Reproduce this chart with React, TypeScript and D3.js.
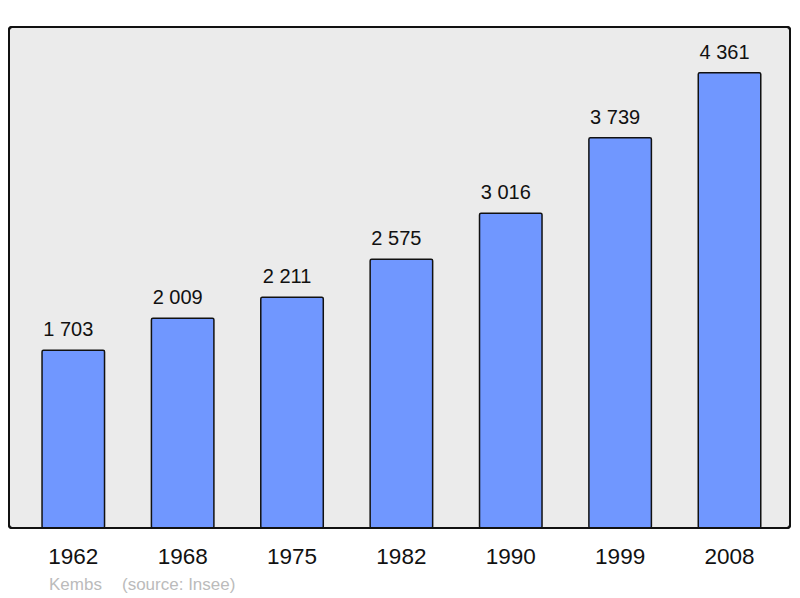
import React from "react";
import * as d3 from "d3";

const years = ["1962", "1968", "1975", "1982", "1990", "1999", "2008"];
const population = [1703, 2009, 2211, 2575, 3016, 3739, 4361];
const townName = "Kembs";
const sourceText = "(source: Insee)";

const fmt = (v: number) => d3.format(",")(v).replace(/,/g, " ");

export default function App() {
  const W = 800;
  const H = 598;
  const x = d3.scaleBand<string>().domain(years).range([18.6, 784.2]).padding(0);
  const y = d3.scaleLinear().domain([0, 4800]).range([528, 27]);
  const barW = 62.5;
  const font = "'Liberation Sans', Arial, sans-serif";
  return (
    <svg width={W} height={H} style={{ position: "absolute", left: 0, top: 0 }} fontFamily={font}>
      <rect x={9} y={27} width={781} height={501} rx={3} fill="#ebebeb" stroke="#111" strokeWidth={2} />
      {years.map((yr, i) => {
        const cx = (x(yr) as number) + x.bandwidth() / 2;
        const top = y(population[i]);
        return (
          <g key={yr}>
            <rect x={cx - barW / 2} y={top} width={barW} height={y(0) - top} rx={1.5} fill="#7097ff" stroke="#111" strokeWidth={1.5} />
            <text x={cx - 5} y={top - 14} textAnchor="middle" fontSize={20} fill="#111">{fmt(population[i])}</text>
            <text x={cx} y={564} textAnchor="middle" fontSize={22.5} fill="#111">{yr}</text>
          </g>
        );
      })}
      <rect x={9} y={27} width={781} height={501} rx={3} fill="none" stroke="#111" strokeWidth={2} />
      <text x={49} y={590} fontSize={17} fill="#bbbbbb">{townName}</text>
      <text x={122} y={590} fontSize={17} fill="#bbbbbb">{sourceText}</text>
    </svg>
  );
}
